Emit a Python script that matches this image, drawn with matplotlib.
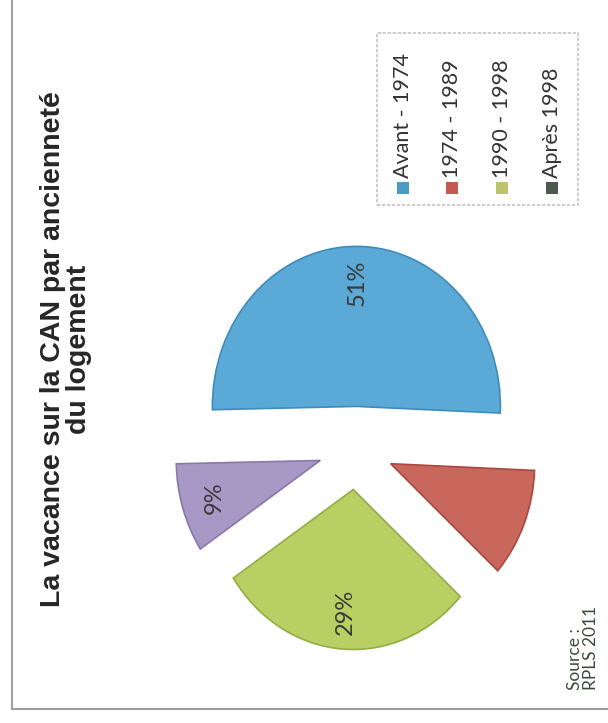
import matplotlib
matplotlib.use("Agg")
import matplotlib.pyplot as plt
from matplotlib.patches import Rectangle
from matplotlib.lines import Line2D

# Data
categories = ["Avant - 1974", "1974 - 1989", "1990 - 1998", "Après 1998"]
shares = [51, 11, 29, 9]
slice_colors = ["#5ba9d6", "#c9675c", "#b7cf63", "#a898c6"]
edge_colors = ["#3f8cba", "#a8483f", "#93ad45", "#8a78a8"]
legend_colors = ["#4b9cc2", "#c25a4f", "#bcc56c", "#4d5a4d"]
title = "La vacance sur la CAN par ancienneté\ndu logement"
source = "Source :\nRPLS 2011"

W, H = 608, 723


def fx(x):
    return x / W


def fy(y):
    return 1 - y / H


fig = plt.figure(figsize=(W / 100, H / 100), dpi=100)
fig.patch.set_facecolor("white")

# frame around the chart (left and bottom sides visible)
fig.add_artist(Line2D([fx(12), fx(12)], [fy(0), fy(709)], color="#a0a0a0", lw=1.5))
fig.add_artist(Line2D([fx(12), fx(608)], [fy(709), fy(709)], color="#a0a0a0", lw=1.5))

# pie axes, stretched so the disc is a little taller than wide
cx, cy, rx, ry = 356, 448, 144, 160
span = 1.6
ax = fig.add_axes([fx(cx - span * rx), fy(cy + span * ry),
                   2 * span * rx / W, 2 * span * ry / H])
wedges, texts, autotexts = ax.pie(
    shares, colors=slice_colors, startangle=181.2, counterclock=False,
    explode=[0.26] * len(shares), autopct="%d%%", pctdistance=0.77,
    wedgeprops=dict(linewidth=1.2),
    textprops=dict(rotation=90, fontsize=17, color="#3a3a3a", family="Lato"))
for w, ec in zip(wedges, edge_colors):
    w.set_edgecolor(ec)
autotexts[1].set_visible(False)
ax.set_aspect("auto")
ax.set_xlim(-span, span)
ax.set_ylim(-span, span)
ax.axis("off")

# title, rotated
fig.text(fx(66), fy(349), title, rotation=90, ha="center", va="center",
         multialignment="center", fontsize=20.5, fontweight="bold",
         family="Liberation Sans", color="#262626", linespacing=1.0)

# legend box
fig.add_artist(Rectangle((fx(377), fy(205)), (578 - 377) / W, (205 - 33) / H,
                         transform=fig.transFigure, fill=False,
                         edgecolor="#c4c4c4", lw=1.2, linestyle=(0, (2, 1))))
legend_x = [403, 452, 502, 552]
for x, label, col in zip(legend_x, categories, legend_colors):
    fig.add_artist(Rectangle((fx(x - 6), fy(194)), 12 / W, 12 / H,
                             transform=fig.transFigure, facecolor=col,
                             edgecolor="none"))
    fig.text(fx(x), fy(178), label, rotation=90, ha="center", va="bottom",
             fontsize=15.5, family="Lato", color="#333333")

# source note
fig.text(fx(583), fy(690), source, rotation=90, ha="center", va="bottom",
         multialignment="left", fontsize=12.5, family="Lato",
         color="#3c4a3c", linespacing=1.05)

fig.savefig("out.png", dpi=100, facecolor="white")
